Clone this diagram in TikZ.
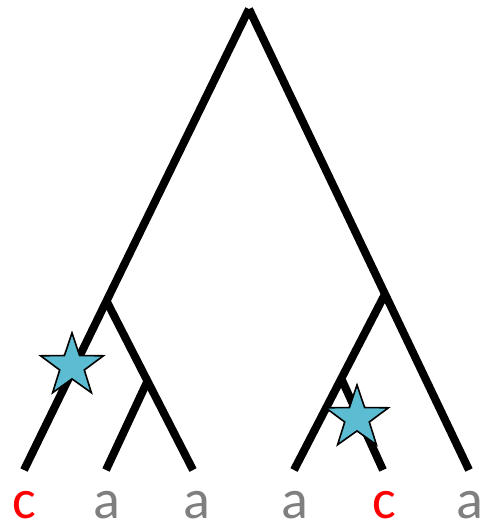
\documentclass[tikz,border=0pt]{standalone}
\usepackage{fontspec}
\setmainfont{Carlito}
\usetikzlibrary{shapes.geometric}
\definecolor{starblue}{HTML}{5BBCD2}
\definecolor{leafgray}{HTML}{7F7F7F}
\tikzset{
  branch/.style={line width=8pt, line cap=butt},
  mutation/.style={star, star points=5, star point ratio=2.55, minimum size=66pt, inner sep=0pt,
    draw=black, line width=1.6pt, fill=starblue},
  leaflabel/.style={anchor=base, font=\fontsize{56}{56}\selectfont, inner sep=0pt, text depth=0pt},
}
\begin{document}
\begin{tikzpicture}[x=1pt,y=-1pt]
\useasboundingbox (0,0) rectangle (481,524);
\coordinate (root) at (249,9);
\coordinate (L1) at (24,470);
\coordinate (L2) at (106,470);
\coordinate (L3) at (193,470);
\coordinate (L4) at (294,470);
\coordinate (L5) at (383,470);
\coordinate (L6) at (469,470);
\coordinate (n1) at (106,300);
\coordinate (n2) at (148,380);
\coordinate (n3) at (384,296);
\coordinate (n4) at (341,378);
\draw[branch] (root) -- (L1);
\draw[branch] (root) -- (L6);
\draw[branch] (n1) -- (L3);
\draw[branch] (n2) -- (L2);
\draw[branch] (n3) -- (L4);
\draw[branch] (n4) -- (L5);
\node[mutation] (s1) at (72,366) {};
\node[mutation] (s2) at (357,418) {};
\node[leaflabel, text=red] (t1) at (24,518) {c};
\node[leaflabel, text=leafgray] (t2) at (107,518) {a};
\node[leaflabel, text=leafgray] (t3) at (197,518) {a};
\node[leaflabel, text=leafgray] (t4) at (295,518) {a};
\node[leaflabel, text=red] (t5) at (384,518) {c};
\node[leaflabel, text=leafgray] (t6) at (470,518) {a};
\end{tikzpicture}
\end{document}
